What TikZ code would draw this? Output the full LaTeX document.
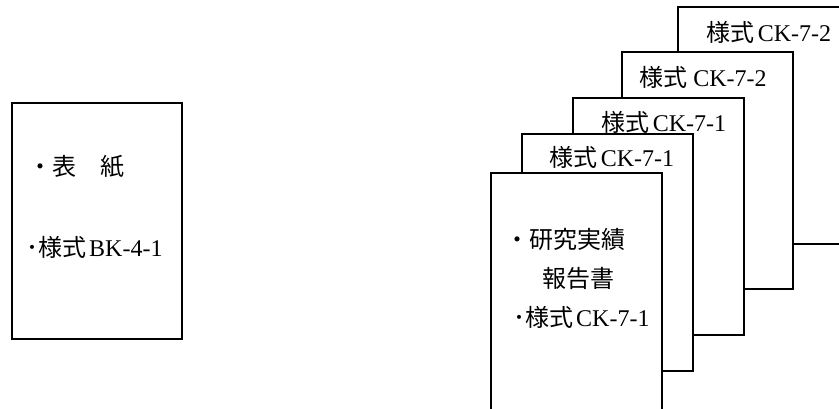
\documentclass[tikz,border=0pt]{standalone}
\usepackage{fontspec}
\setmainfont{Liberation Serif}
\newfontfamily\jp{Noto Sans CJK JP}
\newcommand\yoshiki{{\jp 様式}\kern3pt}
\begin{document}
\begin{tikzpicture}[x=1pt,y=-1pt,
  sheet/.style={draw,line width=1.6pt,fill=white},
  txt/.style={inner sep=0pt,anchor=west,font=\fontsize{24}{28}\selectfont},
  lbl/.style={inner sep=0pt,font=\fontsize{24}{28}\selectfont}]
\useasboundingbox(0,0)rectangle(839,408);
% cover sheet
\draw[sheet](12,103)rectangle(182,339);
\node[txt](hyoshi)at(28,167){\jp ・表　紙};
\node[txt](bk)at(26,247){{\jp ･}\yoshiki BK-4-1};
% stack of report sheets, back to front
\foreach \x/\y in {678/7,622/52,573/98,522/134,491/173}
  \draw[sheet](\x,\y)rectangle++(171,237);
\node[lbl](ck72b)at(769,32){\yoshiki CK-7-2};
\node[lbl](ck72a)at(703,77){{\jp 様式} CK-7-2};
\node[lbl](ck71b)at(664,122){\yoshiki CK-7-1};
\node[lbl](ck71a)at(612,157){\yoshiki CK-7-1};
\node[txt](kenkyu)at(505,239){\jp ・研究実績};
\node[txt](hokoku)at(542,278){\jp 報告書};
\node[txt](ck71)at(513,317){{\jp ･}\yoshiki CK-7-1};
\end{tikzpicture}
\end{document}
